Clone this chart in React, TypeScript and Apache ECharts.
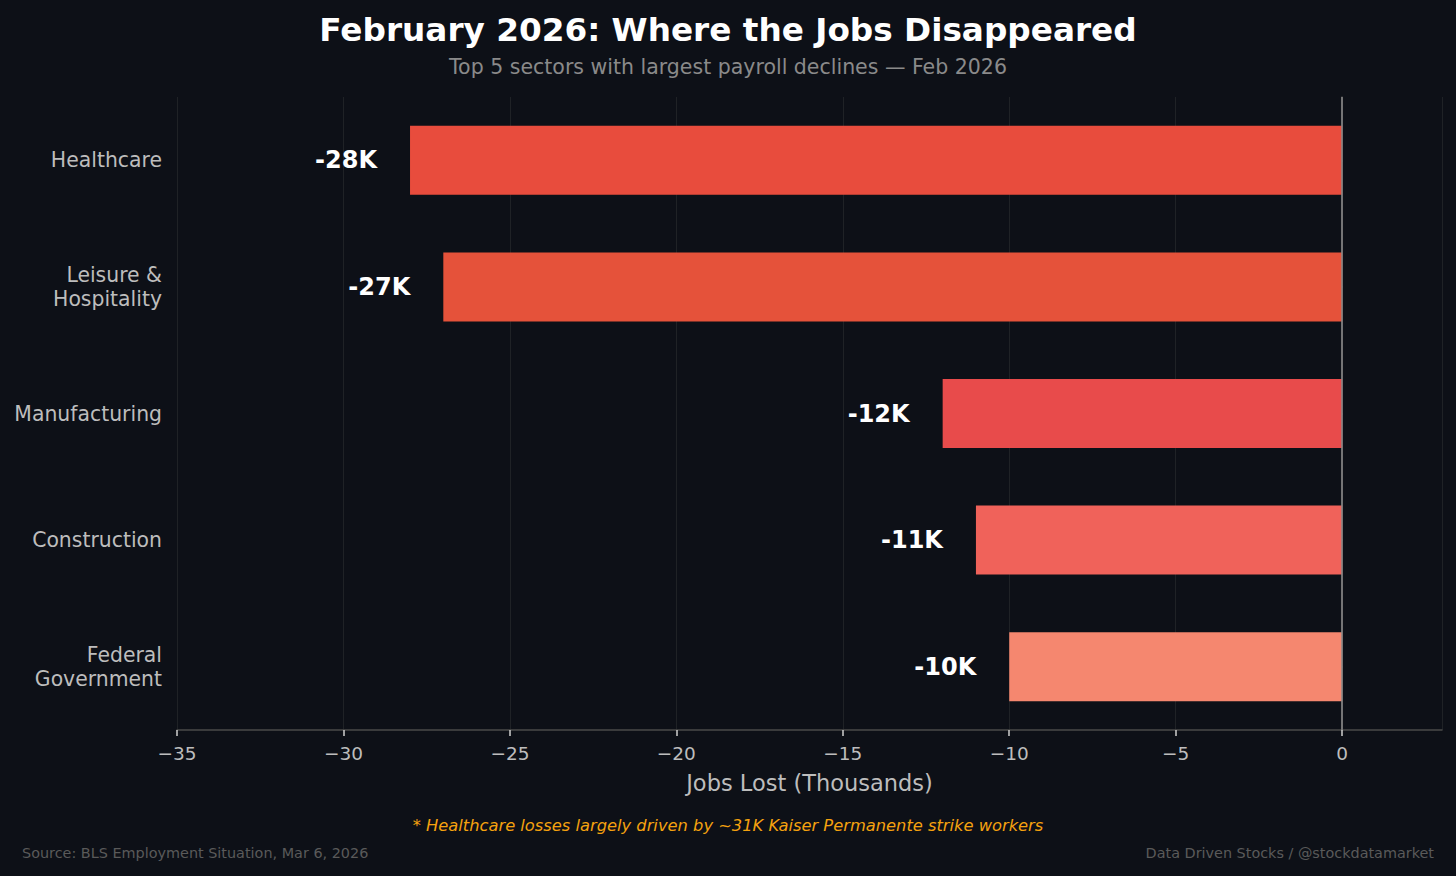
import React, { useEffect, useRef } from "react";
import * as echarts from "echarts";

const categories = ["Healthcare", "Leisure &\nHospitality", "Manufacturing", "Construction", "Federal\nGovernment"];
const values = [-28, -27, -12, -11, -10];
const barColors = ["#e84c3d", "#e5523a", "#e84b4b", "#f0625a", "#f5876f"];
const valueLabels = ["-28K", "-27K", "-12K", "-11K", "-10K"];

const FONT = "DejaVu Sans";

export default function App() {
  const ref = useRef<HTMLDivElement>(null);
  useEffect(() => {
    document.body.style.margin = "0";
    document.body.style.background = "#0d1017";
    const chart = echarts.init(ref.current!, null, { renderer: "svg" });
    chart.setOption({
      animation: false,
      backgroundColor: "#0d1017",
      textStyle: { fontFamily: FONT },
      grid: { left: 177, right: 14, top: 97, bottom: 146 },
      xAxis: {
        type: "value",
        min: -35,
        max: 3,
        interval: 5,
        name: "Jobs Lost (Thousands)",
        nameLocation: "middle",
        nameGap: 41,
        nameTextStyle: { color: "#bdbdbd", fontSize: 22.5, fontFamily: FONT },
        axisLine: { show: true, lineStyle: { color: "#4a4a4a", width: 1.5 } },
        axisTick: { show: true, length: 6, lineStyle: { color: "#d0d0d0", width: 1.5 } },
        axisLabel: {
          color: "#bdbdbd",
          fontSize: 18.5,
          fontFamily: FONT,
          margin: 14,
          showMaxLabel: false,
          formatter: (v: number) => (v < 0 ? "\u2212" + Math.abs(v) : String(v)),
        },
        splitLine: { show: true, lineStyle: { color: "#1f2226", width: 1 } },
      },
      yAxis: {
        type: "category",
        data: categories,
        inverse: true,
        axisLine: { show: true, lineStyle: { color: "#4a4a4a", width: 1.5 } },
        axisTick: { show: true, alignWithLabel: true, interval: 0, length: 6, lineStyle: { color: "#d0d0d0", width: 1.5 } },
        axisLabel: {
          color: "#bdbdbd",
          fontSize: 20.4,
          fontFamily: FONT,
          margin: 15,
          lineHeight: 24,
          align: "right",
          padding: [2, 0, 0, 0],
        },
        splitLine: { show: false },
      },
      series: [
        {
          type: "bar",
          data: values.map((v, i) => ({ value: v, itemStyle: { color: barColors[i] } })),
          barWidth: 69,
          label: {
            show: true,
            position: "left",
            distance: 33,
            color: "#ffffff",
            fontSize: 24,
            fontWeight: "bold",
            fontFamily: FONT,
            formatter: (p: any) => valueLabels[p.dataIndex],
          },
          markLine: {
            silent: true,
            symbol: "none",
            label: { show: false },
            lineStyle: { color: "#888888", width: 1.5, type: "solid" },
            data: [{ xAxis: 0 }],
          },
        },
      ],
      graphic: [
        {
          type: "text",
          left: "center",
          top: 13,
          style: { text: "February 2026: Where the Jobs Disappeared", fill: "#ffffff", fontSize: 32.7, fontWeight: "bold", fontFamily: FONT },
        },
        {
          type: "text",
          left: "center",
          top: 56,
          style: { text: "Top 5 sectors with largest payroll declines \u2014 Feb 2026", fill: "#8a8a8a", fontSize: 20.5, fontFamily: FONT },
        },
        {
          type: "text",
          left: "center",
          top: 817,
          style: { text: "* Healthcare losses largely driven by ~31K Kaiser Permanente strike workers", fill: "#f5a20f", fontSize: 16.3, fontStyle: "italic", fontFamily: FONT },
        },
        {
          type: "text",
          left: 22,
          top: 846,
          style: { text: "Source: BLS Employment Situation, Mar 6, 2026", fill: "#5a5a5a", fontSize: 14.4, fontFamily: FONT },
        },
        {
          type: "text",
          right: 22,
          top: 846,
          style: { text: "Data Driven Stocks / @stockdatamarket", fill: "#5a5a5a", fontSize: 14.4, fontFamily: FONT },
        },
      ],
    });
    return () => chart.dispose();
  }, []);
  return <div ref={ref} style={{ width: 1456, height: 876 }} />;
}
